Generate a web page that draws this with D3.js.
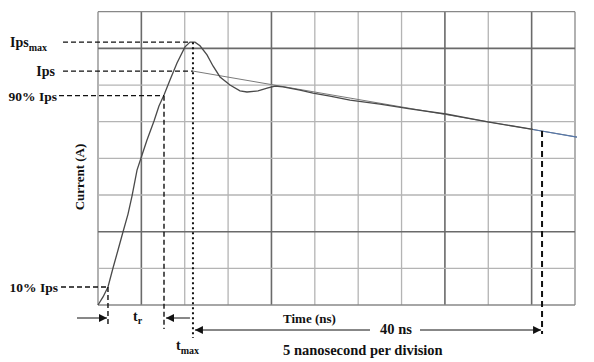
<!DOCTYPE html>
<html>
<head>
<meta charset="utf-8">
<script src="https://cdn.jsdelivr.net/npm/d3@7"></script>
<style>
  body { margin: 0; background: #fff; }
  text { font-family: "Liberation Serif", "Times New Roman", serif; font-weight: bold; fill: #111; }
</style>
</head>
<body>
<div id="canvas"></div>
<script>
// measured pulse: time (ns), current (divisions)
const waveT = [0, 0.58, 1.15, 1.73, 2.31, 2.88, 3.46, 3.92, 4.5, 4.96, 5.65, 6.46, 7.03, 7.61, 8.3, 9.11, 10.03, 10.61, 11.18, 11.76, 12.57, 13.26, 14.07, 15.22, 16.37, 17.18, 18.45, 19.6, 20.41, 21.33, 23.29, 24.79, 26.75, 29.06, 32.51, 35.97, 40.12, 45.08, 50.15];
const waveI = [0, 0.22, 0.49, 1.01, 1.5, 1.99, 2.48, 2.97, 3.68, 4.01, 4.5, 5.02, 5.43, 5.73, 6.14, 6.6, 7.04, 7.17, 7.17, 7.07, 6.82, 6.52, 6.22, 6.0, 5.84, 5.81, 5.84, 5.92, 5.97, 5.95, 5.86, 5.78, 5.7, 5.59, 5.48, 5.35, 5.21, 4.99, 4.79];

// straight decay fit from tmax
const fitT = [10.95, 55.23];
const fitI = [6.38, 4.58];
const blueT = [50.15, 55.23];

// levels and times
const levelNames = ["Ips", "90% Ips", "10% Ips"];
const ipsMax = 7.17, ips = 6.38, ips90 = 5.71, ips10 = 0.49;
const t10 = 1.15, t90 = 7.61, tPeak = 10.61, tMax = 10.95, tEnd = 51.2;

const xTicks = d3.range(0, 56, 5);
const yTicks = d3.range(0, 9, 1);
const darkX = [5, 20, 40, 50];
const darkY = [2, 7];

const width = 594, height = 362;
const margin = { top: 11.7, left: 98, bottom: 57, right: 19 };

const svg = d3.select("#canvas").append("svg")
  .attr("width", width).attr("height", height);

const x = d3.scaleLinear().domain([0, 55]).range([margin.left, width - margin.right]);
const y = d3.scaleLinear().domain([0, 8]).range([height - margin.bottom, margin.top]);

const defs = svg.append("defs");
defs.append("marker").attr("id", "head")
  .attr("viewBox", "0 0 10 10").attr("refX", 10).attr("refY", 5)
  .attr("markerWidth", 10).attr("markerHeight", 8).attr("markerUnits", "userSpaceOnUse")
  .attr("orient", "auto-start-reverse")
  .append("path").attr("d", "M0,0L10,5L0,10Z").attr("fill", "#111");

// grid
const grid = svg.append("g");
grid.selectAll(".vx").data(xTicks).enter().append("line")
  .attr("x1", d => x(d)).attr("x2", d => x(d))
  .attr("y1", y(0)).attr("y2", y(8))
  .attr("stroke", d => darkX.includes(d) ? "#6a6a6a" : (d === 0 || d === 55 ? "#888" : "#b4b4b4"))
  .attr("stroke-width", d => darkX.includes(d) ? 1.6 : 1.3);
grid.selectAll(".hy").data(yTicks).enter().append("line")
  .attr("y1", d => y(d)).attr("y2", d => y(d))
  .attr("x1", x(0)).attr("x2", x(55))
  .attr("stroke", d => darkY.includes(d) ? "#6a6a6a" : (d === 0 || d === 8 ? "#888" : "#b4b4b4"))
  .attr("stroke-width", d => darkY.includes(d) ? 1.6 : 1.3);

const line = d3.line().x(d => x(d[0])).y(d => y(d[1]));
const fitAt = t => fitI[0] + (t - fitT[0]) * (fitI[1] - fitI[0]) / (fitT[1] - fitT[0]);

// fit line
svg.append("path").datum(fitT.map((t, i) => [t, fitI[i]]))
  .attr("d", line).attr("fill", "none").attr("stroke", "#7a7a7a").attr("stroke-width", 1);
svg.append("path").datum(blueT.map(t => [t, fitAt(t)]))
  .attr("d", line).attr("fill", "none").attr("stroke", "#5577aa").attr("stroke-width", 1.1);

// waveform
svg.append("path").datum(waveT.map((t, i) => [t, waveI[i]]))
  .attr("d", line).attr("fill", "none").attr("stroke", "#4a4a4a").attr("stroke-width", 1.3);

// dashed annotations
const ann = svg.append("g").attr("stroke", "#111").attr("fill", "none");
const dash = (x1, y1, x2, y2, da, w) => ann.append("line")
  .attr("x1", x1).attr("y1", y1).attr("x2", x2).attr("y2", y2)
  .attr("stroke-dasharray", da).attr("stroke-width", w);

dash(63, y(ipsMax), x(tPeak), y(ipsMax), "5,3", 1.4);
dash(63, y(ips), x(tMax), y(ips), "5,3", 1.4);
dash(59, y(ips90), x(t90), y(ips90), "5,3", 1.4);
dash(61, y(ips10), x(t10), y(ips10), "5,3", 1.4);
dash(x(t10), y(ips10), x(t10), 324, "5,3", 1.4);
dash(x(t90), y(ips90), x(t90), 329, "5,3", 1.4);
dash(x(tMax), y(ipsMax), x(tMax), 338, "2,3", 2);
dash(x(tEnd), y(fitAt(tEnd)), x(tEnd), 334, "6,4", 2);

// arrows
const arrow = (x1, yy, x2) => svg.append("line")
  .attr("x1", x1).attr("y1", yy).attr("x2", x2).attr("y2", yy)
  .attr("stroke", "#111").attr("stroke-width", 1).attr("marker-end", "url(#head)");
arrow(77, 318, x(t10) - 1);
arrow(x(tMax) - 3, 318, x(t90) + 2);
arrow(370, 330, x(tMax) + 2);
arrow(420, 330, x(tEnd) - 1);

// labels
const label = (tx, ty, txt, anchor, size) => svg.append("text")
  .attr("x", tx).attr("y", ty).attr("text-anchor", anchor || "start")
  .style("font-size", (size || 14) + "px").text(txt);

const m = svg.append("text").attr("x", 47).attr("y", y(ipsMax) + 5)
  .attr("text-anchor", "end").style("font-size", "14px");
m.append("tspan").text("Ips");
m.append("tspan").attr("dy", 4).style("font-size", "10px").text("max");

label(55, y(ips) + 5, levelNames[0], "end");
label(57, y(ips90) + 5, levelNames[1], "end", 13.5);
label(58, y(ips10) + 5, levelNames[2], "end", 13.5);

const tr = svg.append("text").attr("x", 133).attr("y", 321).style("font-size", "14px");
tr.append("tspan").text("t");
tr.append("tspan").attr("dy", 3).style("font-size", "10px").text("r");

const tm = svg.append("text").attr("x", 176).attr("y", 350).style("font-size", "14px");
tm.append("tspan").text("t");
tm.append("tspan").attr("dy", 4).style("font-size", "10px").text("max");

label(283, 323, "Time (ns)", "start", 13);
label(380, 334, "40 ns", "start", 14.5);
label(283, 355, "5 nanosecond per division", "start", 14.5);

svg.append("text")
  .attr("transform", "translate(84,177) rotate(-90)")
  .attr("text-anchor", "middle").style("font-size", "13px")
  .text("Current (A)");
</script>
</body>
</html>
